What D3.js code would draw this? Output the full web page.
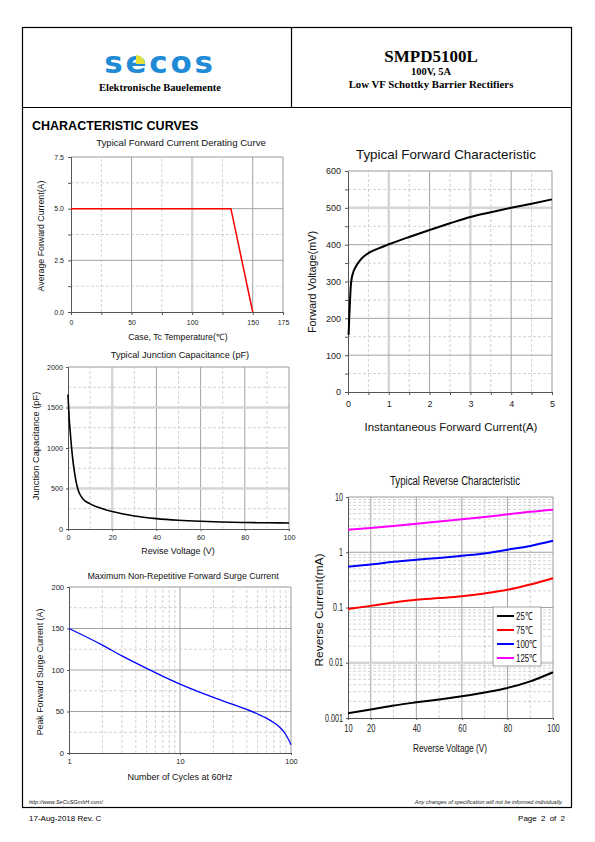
<!DOCTYPE html>
<html><head><meta charset="utf-8">
<script src="https://cdn.jsdelivr.net/npm/d3@7/dist/d3.min.js"></script>
<style>
html,body{margin:0;padding:0;background:#fff;}
svg{display:block;}
</style></head>
<body>
<script>
// ---------------- DATA ----------------
// Derating curve
const deratingTemp = [0, 132, 150];
const deratingCurrent = [5, 5, 0];
const deratingXTicks = [0, 25, 50, 75, 100, 125, 150, 175];
const deratingXLabels = [0, 50, 100, 150, 175];
const deratingYTicks = [0, 1.25, 2.5, 3.75, 5, 6.25, 7.5];
const deratingYLabels = [0, 2.5, 5, 7.5];

// Forward characteristic
const fwdCurrent = [0.015, 0.03, 0.05, 0.07, 0.09, 0.12, 0.2, 0.3, 0.4, 0.5, 0.75, 1, 1.5, 2, 2.5, 3, 3.5, 4, 4.5, 5];
const fwdVoltage = [155, 200, 250, 290, 308, 322, 342, 358, 369, 377, 390, 401, 421, 440, 458, 475, 488, 500, 511, 523];
const fwdXTicks = [0, 1, 2, 3, 4, 5];
const fwdYTicks = [0, 100, 200, 300, 400, 500, 600];

// Junction capacitance
const capVoltage = [0, 0.5, 1, 2, 3, 4, 5, 6, 7, 8, 10, 12, 15, 20, 25, 30, 40, 50, 60, 70, 80, 90, 100];
const capValue = [1660, 1380, 1200, 900, 690, 540, 450, 400, 365, 340, 310, 285, 255, 215, 185, 160, 128, 108, 95, 86, 80, 77, 75];
const capXTicks = [0, 20, 40, 60, 80, 100];
const capYTicks = [0, 500, 1000, 1500, 2000];

// Surge current
const surgeCycles = [1, 2, 3, 5, 10, 20, 30, 40, 50, 60, 70, 80, 90, 100];
const surgeCurrent = [150, 130, 117, 102, 83, 67, 58.5, 52.5, 47, 42, 36.5, 30.5, 22, 10];
const surgeXTicks = [1, 10, 100];
const surgeYTicks = [0, 50, 100, 150, 200];

// Reverse characteristic
const revVoltage = [10, 20, 30, 40, 50, 60, 70, 80, 90, 100];
const rev25 = [0.00122, 0.00142, 0.00168, 0.00192, 0.00217, 0.00247, 0.0029, 0.0035, 0.0046, 0.00673];
const rev75 = [0.0946, 0.107, 0.123, 0.138, 0.148, 0.160, 0.18, 0.209, 0.26, 0.34];
const rev100 = [0.546, 0.6, 0.67, 0.731, 0.79, 0.865, 0.95, 1.11, 1.3, 1.61];
const rev125 = [2.56, 2.75, 3.0, 3.29, 3.6, 3.94, 4.35, 4.85, 5.4, 5.89];
const revSeriesNames = ["25℃", "75℃", "100℃", "125℃"];
const revSeriesColors = ["#000000", "#ff0000", "#0000ff", "#ff00ff"];
const revXTicks = [10, 20, 40, 60, 80, 100];
const revYTicks = [0.001, 0.01, 0.1, 1, 10];

// ---------------- DRAW ----------------
const W = 595, H = 842;
const svg = d3.select("body").append("svg").attr("width", W).attr("height", H);
const SANS = "'Liberation Sans', Arial, Helvetica, sans-serif";
const SERIF = "'Liberation Serif', 'Times New Roman', serif";

// squeeze text horizontally (condensed look)
function narrow(sel, sx) {
  sel.each(function () {
    const t = d3.select(this);
    const x = +t.attr("x") || 0, y = +t.attr("y") || 0;
    t.attr("transform", `translate(${x},${y}) scale(${sx},1)`).attr("x", 0).attr("y", 0);
  });
}

// page frame
const frame = svg.append("g").attr("stroke", "#000").attr("stroke-width", 1.2).attr("fill", "none");
frame.append("rect").attr("x", 22.5).attr("y", 27.5).attr("width", 549).attr("height", 780);
frame.append("line").attr("x1", 22.5).attr("x2", 571.5).attr("y1", 107.5).attr("y2", 107.5);
frame.append("line").attr("x1", 291.5).attr("x2", 291.5).attr("y1", 27.5).attr("y2", 107.5);

// logo
const logo = svg.append("g");
logo.append("text").attr("x", 160).attr("y", 73).attr("text-anchor", "middle")
  .attr("font-family", "'DejaVu Sans', sans-serif").attr("font-weight", "bold")
  .attr("font-size", 31).attr("letter-spacing", 2.8).attr("fill", "#1f8bd7").text("secos");
logo.append("path").attr("d", "M136,64 L136,55 A9,9 0 0 1 145,64 Z").attr("fill", "#e6e033");
logo.append("text").attr("x", 160).attr("y", 91).attr("text-anchor", "middle")
  .attr("font-family", SERIF).attr("font-weight", "bold").attr("font-size", 10.5).text("Elektronische Bauelemente");

// right header
svg.append("text").attr("x", 431).attr("y", 62).attr("text-anchor", "middle")
  .attr("font-family", SERIF).attr("font-weight", "bold").attr("font-size", 17).text("SMPD5100L");
svg.append("text").attr("x", 431).attr("y", 75).attr("text-anchor", "middle")
  .attr("font-family", SERIF).attr("font-weight", "bold").attr("font-size", 10.5).text("100V, 5A");
svg.append("text").attr("x", 431).attr("y", 88).attr("text-anchor", "middle")
  .attr("font-family", SERIF).attr("font-weight", "bold").attr("font-size", 10.8).text("Low VF Schottky Barrier Rectifiers");

svg.append("text").attr("x", 32).attr("y", 130).attr("font-family", SANS).attr("font-weight", "bold")
  .attr("font-size", 12.5).text("CHARACTERISTIC CURVES");

// footer
svg.append("text").attr("x", 29).attr("y", 804).attr("font-family", SANS).attr("font-style", "italic")
  .attr("font-size", 5.5).attr("fill", "#222").text("http://www.SeCoSGmbH.com/");
svg.append("text").attr("x", 563).attr("y", 804).attr("text-anchor", "end").attr("font-family", SANS).attr("font-style", "italic")
  .attr("font-size", 5.5).attr("fill", "#222").text("Any changes of specification will not be informed individually.");
svg.append("text").attr("x", 29).attr("y", 821).attr("font-family", SANS)
  .attr("font-size", 8).text("17-Aug-2018 Rev. C");
svg.append("text").attr("x", 565).attr("y", 821).attr("text-anchor", "end").attr("font-family", SANS)
  .attr("font-size", 8).attr("word-spacing", 2).text("Page 2 of 2");

// helpers
const STY = {
  solid: {stroke: "#a3a3a3", w: 1, dash: null},
  dash: {stroke: "#c6c6c6", w: 0.8, dash: "3,2"},
  thick: {stroke: "#d6d6d6", w: 2.5, dash: null}
};
function vline(g, x, y, vals, kind) {
  const s = STY[kind];
  g.selectAll(null).data(vals).enter().append("line")
    .attr("x1", d => x(d)).attr("x2", d => x(d))
    .attr("y1", y.range()[0]).attr("y2", y.range()[1])
    .attr("stroke", s.stroke).attr("stroke-width", s.w).attr("stroke-dasharray", s.dash);
}
function hline(g, x, y, vals, kind) {
  const s = STY[kind];
  g.selectAll(null).data(vals).enter().append("line")
    .attr("y1", d => y(d)).attr("y2", d => y(d))
    .attr("x1", x.range()[0]).attr("x2", x.range()[1])
    .attr("stroke", s.stroke).attr("stroke-width", s.w).attr("stroke-dasharray", s.dash);
}
function styleAxis(ga, fs) {
  ga.select(".domain").attr("stroke", "#555");
  ga.selectAll(".tick line").attr("stroke", "#555");
  ga.selectAll("text").attr("font-size", fs).attr("font-family", SANS).attr("fill", "#222");
}
function frameBox(g, x, y) {
  const [x0, x1] = x.range(), [y0, y1] = y.range();
  g.append("line").attr("x1", x0).attr("x2", x1).attr("y1", y1).attr("y2", y1).attr("stroke", "#999");
  g.append("line").attr("x1", x1).attr("x2", x1).attr("y1", y0).attr("y2", y1).attr("stroke", "#999");
}
function label(g, txt, x, y, fs, rot) {
  const t = g.append("text").attr("x", x).attr("y", y).attr("text-anchor", "middle")
    .attr("font-family", SANS).attr("font-size", fs).attr("fill", "#111").text(txt);
  if (rot) t.attr("transform", `rotate(-90,${x},${y})`);
  return t;
}

// ---------- Chart 1: derating ----------
{
  const g = svg.append("g");
  const x = d3.scaleLinear().domain([0, 175]).range([71, 283]);
  const y = d3.scaleLinear().domain([0, 7.5]).range([312, 157]);
  vline(g, x, y, [25, 75, 125], "dash");
  vline(g, x, y, [100], "thick");
  vline(g, x, y, [50, 150], "solid");
  hline(g, x, y, [1.25, 3.75, 6.25], "dash");
  hline(g, x, y, [2.5, 5], "solid");
  frameBox(g, x, y);
  const ax = g.append("g").attr("transform", `translate(0,${y.range()[0]})`)
    .call(d3.axisBottom(x).tickValues(deratingXTicks).tickSize(3).tickPadding(5)
      .tickFormat(d => deratingXLabels.includes(d) ? d : ""));
  styleAxis(ax, 7);
  const ay = g.append("g").attr("transform", `translate(${x.range()[0]},0)`)
    .call(d3.axisLeft(y).tickValues(deratingYTicks).tickSize(3).tickPadding(4)
      .tickFormat(d => deratingYLabels.includes(d) ? d3.format(".1f")(d) : ""));
  styleAxis(ay, 7);
  const line = d3.line().x(d => x(d[0])).y(d => y(d[1]));
  g.append("path").datum(deratingTemp.map((t, i) => [t, deratingCurrent[i]]))
    .attr("d", line).attr("fill", "none").attr("stroke", "#ff0000").attr("stroke-width", 1.5);
  label(g, "Typical Forward Current Derating Curve", 181, 146, 9.6);
  label(g, "Case, Tc Temperature(℃)", 178, 340, 8.7);
  label(g, "Average Forward Current(A)", 44, 236, 8.8, true);
}

// ---------- Chart 2: forward characteristic ----------
{
  const g = svg.append("g");
  const x = d3.scaleLinear().domain([0, 5]).range([348, 552]);
  const y = d3.scaleLinear().domain([0, 600]).range([392, 171]);
  vline(g, x, y, [0.5, 1.5, 2.5, 3.5, 4.5], "dash");
  vline(g, x, y, [1, 3], "thick");
  vline(g, x, y, [2, 4], "solid");
  hline(g, x, y, [50, 150, 250, 350, 450, 550], "dash");
  hline(g, x, y, [500], "thick");
  hline(g, x, y, [100, 200, 300, 400], "solid");
  frameBox(g, x, y);
  const xt = d3.range(0, 5.01, 0.5), yt = d3.range(0, 601, 50);
  const ax = g.append("g").attr("transform", `translate(0,${y.range()[0]})`)
    .call(d3.axisBottom(x).tickValues(xt).tickSize(3).tickPadding(6)
      .tickFormat(d => fwdXTicks.includes(d) ? d : ""));
  styleAxis(ax, 9);
  const ay = g.append("g").attr("transform", `translate(${x.range()[0]},0)`)
    .call(d3.axisLeft(y).tickValues(yt).tickSize(3).tickPadding(4)
      .tickFormat(d => fwdYTicks.includes(d) ? d : ""));
  styleAxis(ay, 9);
  const line = d3.line().curve(d3.curveMonotoneX).x(d => x(d[0])).y(d => y(d[1]));
  g.append("path").datum(fwdCurrent.map((c, i) => [c, fwdVoltage[i]]))
    .attr("d", line).attr("fill", "none").attr("stroke", "#000").attr("stroke-width", 2);
  label(g, "Typical Forward Characteristic", 446, 159, 13.4);
  label(g, "Instantaneous Forward Current(A)", 451, 431, 11.4);
  label(g, "Forward Voltage(mV)", 316, 282, 10.8, true);
}

// ---------- Chart 3: junction capacitance ----------
{
  const g = svg.append("g");
  const x = d3.scaleLinear().domain([0, 100]).range([68, 289]);
  const y = d3.scaleLinear().domain([0, 2000]).range([529, 367]);
  vline(g, x, y, [10, 30, 50, 70, 90], "dash");
  vline(g, x, y, [20], "thick");
  vline(g, x, y, [40, 60, 80], "solid");
  hline(g, x, y, [250, 750, 1250, 1750], "dash");
  hline(g, x, y, [500, 1500], "thick");
  hline(g, x, y, [1000], "solid");
  frameBox(g, x, y);
  const ax = g.append("g").attr("transform", `translate(0,${y.range()[0]})`)
    .call(d3.axisBottom(x).tickValues(capXTicks).tickSize(2).tickPadding(4).tickFormat(d3.format("d")));
  styleAxis(ax, 7.2);
  const ay = g.append("g").attr("transform", `translate(${x.range()[0]},0)`)
    .call(d3.axisLeft(y).tickValues(capYTicks).tickSize(2).tickPadding(3).tickFormat(d3.format("d")));
  styleAxis(ay, 7.2);
  const line = d3.line().curve(d3.curveMonotoneX).x(d => x(d[0])).y(d => y(d[1]));
  g.append("path").datum(capVoltage.map((v, i) => [v, capValue[i]]))
    .attr("d", line).attr("fill", "none").attr("stroke", "#000").attr("stroke-width", 1.6);
  label(g, "Typical Junction Capacitance (pF)", 180, 358, 9.2);
  label(g, "Revise Voltage (V)", 178, 554, 8.9);
  label(g, "Junction Capacitance (pF)", 39, 446, 9.3, true);
}

// ---------- Chart 4: surge current ----------
{
  const g = svg.append("g");
  const x = d3.scaleLog().domain([1, 100]).range([69, 291]);
  const y = d3.scaleLinear().domain([0, 200]).range([753, 587]);
  const minors = [2, 3, 4, 5, 6, 7, 8, 9, 20, 30, 40, 50, 60, 70, 80, 90];
  vline(g, x, y, minors, "dash");
  vline(g, x, y, [10], "solid");
  hline(g, x, y, [25, 75, 125, 175], "dash");
  hline(g, x, y, [50, 100, 150], "solid");
  frameBox(g, x, y);
  const ax = g.append("g").attr("transform", `translate(0,${y.range()[0]})`)
    .call(d3.axisBottom(x).tickValues(surgeXTicks).tickSize(2).tickPadding(4).tickFormat(d3.format("d")));
  styleAxis(ax, 7.5);
  const ay = g.append("g").attr("transform", `translate(${x.range()[0]},0)`)
    .call(d3.axisLeft(y).tickValues(surgeYTicks).tickSize(2).tickPadding(3));
  styleAxis(ay, 7.5);
  const line = d3.line().curve(d3.curveMonotoneX).x(d => x(d[0])).y(d => y(d[1]));
  g.append("path").datum(surgeCycles.map((c, i) => [c, surgeCurrent[i]]))
    .attr("d", line).attr("fill", "none").attr("stroke", "#0000ff").attr("stroke-width", 1.3);
  label(g, "Maximum Non-Repetitive Forward Surge Current", 183, 579, 8.8);
  label(g, "Number of Cycles at 60Hz", 180, 780, 9);
  label(g, "Peak Forward Surge Current (A)", 43, 672, 8.8, true);
}

// ---------- Chart 5: reverse characteristic ----------
{
  const g = svg.append("g");
  const x = d3.scaleLinear().domain([10, 100]).range([348, 553]);
  const y = d3.scaleLog().domain([0.001, 10]).range([718, 497]);
  vline(g, x, y, [30, 50, 70, 90], "dash");
  vline(g, x, y, [20, 40, 60, 80], "solid");
  const minorY = [];
  [0.001, 0.01, 0.1, 1].forEach(d => { for (let k = 2; k <= 9; k++) minorY.push(d * k); });
  hline(g, x, y, minorY, "dash");
  hline(g, x, y, [0.01], "thick");
  hline(g, x, y, [0.1, 1], "solid");
  frameBox(g, x, y);
  const ax = g.append("g").attr("transform", `translate(0,${y.range()[0]})`)
    .call(d3.axisBottom(x).tickValues(revXTicks).tickSize(2).tickPadding(5));
  styleAxis(ax, 10);
  narrow(ax.selectAll("text"), 0.75);
  const ay = g.append("g").attr("transform", `translate(${x.range()[0]},0)`)
    .call(d3.axisLeft(y).tickValues(revYTicks).tickSize(2).tickPadding(3).tickFormat(d => String(d)));
  styleAxis(ay, 10);
  narrow(ay.selectAll("text"), 0.72);
  const series = [rev25, rev75, rev100, rev125];
  const line = d3.line().curve(d3.curveMonotoneX).x(d => x(d[0])).y(d => y(d[1]));
  series.forEach((s, si) => {
    g.append("path").datum(revVoltage.map((v, i) => [v, s[i]]))
      .attr("d", line).attr("fill", "none").attr("stroke", revSeriesColors[si]).attr("stroke-width", 2);
  });
  // legend
  const lg = g.append("g");
  lg.append("rect").attr("x", 493).attr("y", 607).attr("width", 48).attr("height", 59)
    .attr("fill", "#fff").attr("stroke", "#888").attr("stroke-width", 0.8);
  revSeriesNames.forEach((n, i) => {
    const yy = 616 + i * 14;
    lg.append("line").attr("x1", 497).attr("x2", 514).attr("y1", yy).attr("y2", yy)
      .attr("stroke", revSeriesColors[i]).attr("stroke-width", 2);
    const t = lg.append("text").attr("x", 516).attr("y", yy + 4).attr("font-family", SANS)
      .attr("font-size", 11).attr("fill", "#111").text(n);
    narrow(t, 0.72);
  });
  label(g, "Typical Reverse Characteristic", 455, 485, 12.5)
    .attr("textLength", 130).attr("lengthAdjust", "spacingAndGlyphs");
  label(g, "Reverse Voltage (V)", 450, 752, 10.5)
    .attr("textLength", 74).attr("lengthAdjust", "spacingAndGlyphs");
  label(g, "Reverse Current(mA)", 323, 610, 11, true)
    .attr("textLength", 113).attr("lengthAdjust", "spacingAndGlyphs");
}
</script>
</body></html>
